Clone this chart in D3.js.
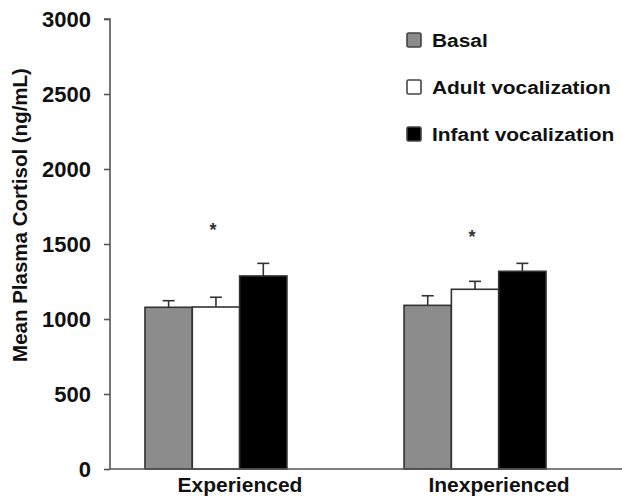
<!DOCTYPE html>
<html>
<head>
<meta charset="utf-8">
<script src="https://cdn.jsdelivr.net/npm/d3@7"></script>
<style>
  html, body { margin: 0; padding: 0; background: #fff; }
  svg { display: block; font-family: "Liberation Sans", Arial, sans-serif; font-weight: bold; }
</style>
</head>
<body>
<svg id="chart" width="622" height="498"></svg>
<script>
const categories = ["Experienced", "Inexperienced"];
const seriesNames = ["Basal", "Adult vocalization", "Infant vocalization"];
const basal = [1078, 1091];
const adultVoc = [1080, 1198];
const infantVoc = [1287, 1318];
const basalErr = [44, 64];
const adultErr = [65, 53];
const infantErr = [84, 53];
const asteriskValues = [1595, 1550];
const yTicks = [0, 500, 1000, 1500, 2000, 2500, 3000];

const seriesValues = [basal, adultVoc, infantVoc];
const seriesErrors = [basalErr, adultErr, infantErr];
const colors = ["#8c8c8c", "#ffffff", "#000000"];

const svg = d3.select("#chart");

const y = d3.scaleLinear().domain([0, 3000]).range([469, 19]);
const x0 = d3.scaleBand().domain(categories).range([110, 581])
  .paddingInner(0.452).paddingOuter(0.135);
const x1 = d3.scaleBand().domain(seriesNames).range([0, x0.bandwidth()]).padding(0);

const rows = [];
categories.forEach((c, ci) => {
  seriesNames.forEach((s, si) => {
    rows.push({cat: c, series: s, si, value: seriesValues[si][ci], err: seriesErrors[si][ci]});
  });
});

// bars
svg.append("g").selectAll("rect").data(rows).join("rect")
  .attr("x", d => x0(d.cat) + x1(d.series))
  .attr("y", d => y(d.value))
  .attr("width", x1.bandwidth())
  .attr("height", d => y(0) - y(d.value))
  .attr("fill", d => colors[d.si])
  .attr("stroke", "#333")
  .attr("stroke-width", 1.6);

// error bars
const eg = svg.append("g").attr("stroke", "#333").attr("stroke-width", 1.6);
rows.forEach(d => {
  const cx = x0(d.cat) + x1(d.series) + x1.bandwidth() / 2;
  eg.append("line").attr("x1", cx).attr("x2", cx)
    .attr("y1", y(d.value)).attr("y2", y(d.value + d.err));
  eg.append("line").attr("x1", cx - 6).attr("x2", cx + 6)
    .attr("y1", y(d.value + d.err)).attr("y2", y(d.value + d.err));
});

// asterisks
svg.append("g").selectAll("text").data(categories).join("text")
  .attr("x", c => x0(c) + x1("Adult vocalization") + x1.bandwidth() / 2 - 3)
  .attr("y", (c, i) => y(asteriskValues[i]))
  .attr("text-anchor", "middle")
  .attr("dominant-baseline", "central")
  .attr("font-size", 18)
  .attr("font-weight", "bold")
  .attr("fill", "#333")
  .text("*");

// y axis
const yAxis = d3.axisLeft(y).tickValues(yTicks).tickSize(6).tickPadding(13).tickFormat(d3.format("d"));
const yg = svg.append("g").attr("transform", "translate(110,0)").call(yAxis);
yg.select(".domain").attr("stroke", "#555").attr("stroke-width", 1.6).attr("d", `M-6,${y(3000)}H0V${y(0)}`);
yg.selectAll(".tick line").attr("stroke", "#555").attr("stroke-width", 1.6);
yg.selectAll(".tick text").attr("font-size", 22).attr("font-weight", "bold").attr("fill", "#111")
  .attr("font-family", "Liberation Sans, Arial, sans-serif");

// x baseline
svg.append("line").attr("x1", 110).attr("x2", 622).attr("y1", y(0)).attr("y2", y(0))
  .attr("stroke", "#555").attr("stroke-width", 1.6);

// category labels
svg.append("g").selectAll("text").data(categories).join("text")
  .attr("x", c => x0(c) + x0.bandwidth() / 2 + 24)
  .attr("y", y(0) + 23)
  .attr("text-anchor", "middle")
  .attr("font-size", 21)
  .attr("fill", "#111")
  .text(c => c);

// y title
svg.append("text")
  .attr("transform", `translate(27,${(y(0) + y(3000)) / 2 - 29}) rotate(-90)`)
  .attr("text-anchor", "middle")
  .attr("font-size", 20.5)
  .attr("fill", "#111")
  .text("Mean Plasma Cortisol (ng/mL)");

// legend
const lg = svg.append("g").attr("transform", "translate(407,33)");
const li = lg.selectAll("g").data(seriesNames).join("g")
  .attr("transform", (d, i) => `translate(0,${i * 47})`);
li.append("rect").attr("width", 14).attr("height", 14)
  .attr("fill", (d, i) => colors[i]).attr("stroke", "#444").attr("stroke-width", 1.6).attr("rx", 1.5);
li.append("g").attr("transform", "translate(25,14) scale(1.1,1)")
  .append("text")
  .attr("font-size", 19).attr("fill", "#111")
  .text(d => d);
</script>
</body>
</html>
